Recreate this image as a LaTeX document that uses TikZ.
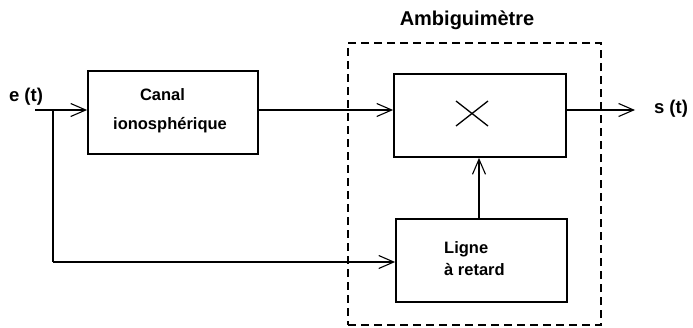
\documentclass[tikz,border=0pt]{standalone}
\usepackage{fontspec}
\setmainfont{Liberation Sans}
\usetikzlibrary{arrows.meta}
\begin{document}
\begin{tikzpicture}[x=1pt,y=-1pt,
  blk/.style={draw, line width=1.8pt, inner sep=0pt},
  conn/.style={line width=1.3pt, -{Straight Barb[length=15pt,width=13pt,line width=1.1pt]}},
  wire/.style={line width=1.3pt},
  lbl/.style={font=\fontsize{16.5}{18}\selectfont\bfseries, inner sep=0pt},
  big/.style={font=\fontsize{18.5}{21}\selectfont\bfseries, inner sep=0pt},
  title/.style={font=\fontsize{20}{23}\selectfont\bfseries, inner sep=0pt}]
\useasboundingbox (0,0) rectangle (693,327);
% boxes
\node[blk, minimum width=170pt, minimum height=83pt] (canal) at (173,112.5) {};
\node[blk, minimum width=172pt, minimum height=83pt] (mult) at (480,115.5) {};
\node[blk, minimum width=171pt, minimum height=83pt] (delay) at (481.5,260.5) {};
\node[draw, dashed, dash pattern=on 8pt off 5pt, line width=1.3pt, minimum width=253pt, minimum height=282pt, inner sep=0pt] (amb) at (474.5,184) {};
% texts
\node[title] (ambt) at (467,20) {Ambiguimètre};
\node[big] (et) at (26,97) {e (t)};
\node[big] (st) at (671,109) {s (t)};
\node[lbl] (t1) at (162.5,95) {Canal};
\node[lbl] (t2) at (170,125) {ionosphérique};
\node[lbl, anchor=west] (t3) at (444,249) {Ligne};
\node[lbl, anchor=west] (t4) at (444,270) {à retard};
% cross
\coordinate (c1) at (456,101);
\coordinate (c2) at (488,126);
\coordinate (c3) at (456,126);
\coordinate (c4) at (488,101);
\draw[line width=1.3pt] (c1) -- (c2) (c3) -- (c4);
% connectors
\coordinate (in) at (35,110);
\coordinate (br) at (53,110);
\coordinate (dl) at (53,262);
\coordinate (out) at (635,110);
\coordinate (up) at (479,0);
\draw[conn] (in) -- (in -| canal.west);
\draw[conn] (canal.east |- in) -- (mult.west |- in);
\draw[conn] (mult.east |- out) -- (out);
\draw[wire] (br) -- (dl);
\draw[conn] (dl) -- (delay.west |- dl);
\draw[conn] (delay.north -| up) -- (mult.south -| up);
\end{tikzpicture}
\end{document}
